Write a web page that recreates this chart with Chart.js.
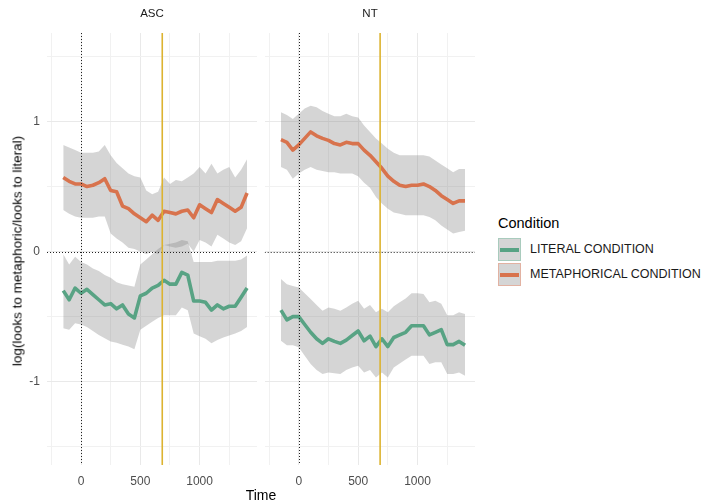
<!DOCTYPE html>
<html>
<head>
<meta charset="utf-8">
<script src="https://cdn.jsdelivr.net/npm/chart.js@4/dist/chart.umd.min.js"></script>
<style>
  html, body { margin: 0; padding: 0; background: #fff; }
  body { width: 702px; height: 501px; position: relative; overflow: hidden;
         font-family: "Liberation Sans", Arial, sans-serif; }
  canvas { position: absolute; top: 0; }
  #ascCanvas { left: 0; }
  #ntCanvas { left: 260px; }
  .strip { position: absolute; top: 7px; font-size: 11.5px; color: #1a1a1a;
           transform: translateX(-50%); white-space: nowrap; }
  #yTitle { position: absolute; left: 17px; top: 251px; white-space: nowrap;
            transform: translate(-50%, -50%) rotate(-90deg); font-size: 13.5px; color: #000; }
  #xTitle { position: absolute; left: 261px; top: 487px; transform: translateX(-50%);
            font-size: 14px; color: #000; }
  #legend { position: absolute; left: 498px; top: 215px; width: 204px; height: 75px; }
  #legend .title { position: absolute; left: 0; top: 0; font-size: 14.5px; color: #000; white-space: nowrap; }
  #legend .key { position: absolute; left: 0; width: 21px; height: 21px;
                 background: #d5d5d5; border: 1px solid; }
  #legend .key i { position: absolute; left: 1px; right: 1px; top: 9px; height: 3.5px; }
  #legend .lab { position: absolute; left: 32px; font-size: 12.5px; color: #1a1a1a;
                 white-space: nowrap; }
</style>
</head>
<body>
<canvas id="ascCanvas" width="260" height="501"></canvas>
<canvas id="ntCanvas" width="220" height="501"></canvas>
<div class="strip" style="left:152px">ASC</div>
<div class="strip" style="left:370px">NT</div>
<div id="yTitle">log(looks to metaphoric/looks to literal)</div>
<div id="xTitle">Time</div>
<div id="legend"></div>

<script>
// Time bins (ms relative to onset)
const timeBins = [-150, -100, -50, 0, 50, 100, 150, 200, 250, 300, 350, 400, 450, 500, 550, 600,
                  650, 700, 750, 800, 850, 900, 950, 1000, 1050, 1100, 1150, 1200, 1250, 1300, 1350, 1400];

const groups = ["ASC", "NT"];
const conditions = ["LITERAL CONDITION", "METAPHORICAL CONDITION"];

// ASC group: mean log-ratio and confidence band
const ascMetaMean  = [0.57, 0.54, 0.52, 0.52, 0.50, 0.51, 0.53, 0.56, 0.47, 0.46, 0.35, 0.33, 0.29, 0.26, 0.23, 0.28,
                      0.24, 0.31, 0.30, 0.29, 0.31, 0.32, 0.26, 0.36, 0.33, 0.30, 0.40, 0.37, 0.34, 0.31, 0.34, 0.45];
const ascMetaUpper = [0.82, 0.80, 0.78, 0.76, 0.76, 0.76, 0.77, 0.82, 0.74, 0.68, 0.64, 0.60, 0.58, 0.57, 0.47, 0.44,
                      0.46, 0.57, 0.52, 0.55, 0.54, 0.57, 0.60, 0.65, 0.60, 0.675, 0.60, 0.63, 0.65, 0.57, 0.63, 0.71];
const ascMetaLower = [0.32, 0.29, 0.27, 0.26, 0.26, 0.26, 0.27, 0.27, 0.14, 0.10, 0.07, 0.03, 0.02, 0.00, -0.02, 0.00,
                      -0.02, 0.05, 0.04, 0.03, 0.04, 0.06, 0.00, 0.09, 0.07, 0.04, 0.13, 0.10, 0.07, 0.05, 0.08, 0.18];
const ascLitMean   = [-0.30, -0.37, -0.28, -0.32, -0.29, -0.33, -0.37, -0.41, -0.40, -0.44, -0.41, -0.48, -0.51, -0.34, -0.32, -0.28,
                      -0.26, -0.22, -0.25, -0.25, -0.16, -0.18, -0.38, -0.38, -0.39, -0.45, -0.41, -0.44, -0.42, -0.42, -0.35, -0.28];
const ascLitUpper  = [-0.02, -0.10, -0.04, -0.08, -0.10, -0.13, -0.15, -0.18, -0.20, -0.235, -0.25, -0.26, -0.27, -0.10, -0.06, -0.02,
                      0.02, 0.05, 0.06, 0.07, 0.09, 0.08, -0.08, -0.08, -0.08, -0.08, -0.07, -0.07, -0.07, -0.07, -0.06, -0.03];
const ascLitLower  = [-0.59, -0.60, -0.55, -0.56, -0.58, -0.61, -0.64, -0.665, -0.69, -0.70, -0.715, -0.73, -0.75, -0.60, -0.57, -0.54,
                      -0.51, -0.49, -0.49, -0.49, -0.43, -0.45, -0.63, -0.65, -0.67, -0.705, -0.68, -0.66, -0.645, -0.63, -0.61, -0.58];

// NT group: mean log-ratio and confidence band
const ntMetaMean   = [0.86, 0.84, 0.78, 0.82, 0.87, 0.92, 0.89, 0.87, 0.855, 0.83, 0.82, 0.84, 0.83, 0.83, 0.78, 0.74,
                      0.69, 0.64, 0.58, 0.54, 0.51, 0.50, 0.51, 0.51, 0.52, 0.50, 0.47, 0.43, 0.40, 0.37, 0.39, 0.39];
const ntMetaUpper  = [1.07, 1.05, 1.02, 1.06, 1.10, 1.12, 1.11, 1.08, 1.06, 1.04, 1.04, 1.06, 1.04, 1.03, 0.97, 0.92,
                      0.87, 0.83, 0.79, 0.76, 0.74, 0.74, 0.74, 0.74, 0.74, 0.73, 0.70, 0.67, 0.64, 0.61, 0.635, 0.635];
const ntMetaLower  = [0.65, 0.63, 0.56, 0.60, 0.63, 0.65, 0.63, 0.62, 0.61, 0.61, 0.60, 0.60, 0.60, 0.58, 0.53, 0.49,
                      0.42, 0.37, 0.33, 0.30, 0.29, 0.28, 0.28, 0.28, 0.28, 0.265, 0.24, 0.20, 0.17, 0.14, 0.15, 0.16];
const ntLitMean    = [-0.45, -0.525, -0.50, -0.50, -0.56, -0.62, -0.67, -0.705, -0.67, -0.69, -0.705, -0.68, -0.645, -0.61, -0.685, -0.65,
                      -0.73, -0.67, -0.73, -0.66, -0.64, -0.62, -0.57, -0.57, -0.57, -0.64, -0.62, -0.60, -0.715, -0.715, -0.69, -0.72];
const ntLitUpper   = [-0.21, -0.25, -0.265, -0.275, -0.32, -0.365, -0.41, -0.455, -0.43, -0.44, -0.455, -0.43, -0.40, -0.377, -0.44, -0.41,
                      -0.467, -0.44, -0.467, -0.42, -0.39, -0.36, -0.32, -0.32, -0.325, -0.39, -0.377, -0.40, -0.49, -0.49, -0.467, -0.48];
const ntLitLower   = [-0.685, -0.72, -0.72, -0.736, -0.80, -0.864, -0.91, -0.94, -0.93, -0.935, -0.94, -0.91, -0.89, -0.877, -0.93, -0.91,
                      -0.967, -0.93, -0.967, -0.89, -0.86, -0.83, -0.80, -0.80, -0.80, -0.864, -0.85, -0.85, -0.94, -0.94, -0.93, -0.954];

// Axis ticks: labelled (major) values and gridline-only (minor) values
const xMajorTicks = [0, 500, 1000];
const xMinorTicks = [-250, 250, 750, 1250];
const yMajorTicks = [-1, 0, 1];
const yMinorTicks = [-1.5, -0.5, 0.5, 1.5];

// Reference lines
const onsetTime = 0;
const markerTime = 685;

const colLiteral = "#58a384";
const colMetaphor = "#d8734d";
const bandFill = "rgba(128,128,128,0.33)";
const gridMajor = "#e9e9e9";
const gridMinor = "#f1f1f1";
const tickFont = { family: "'Liberation Sans', Arial, sans-serif", size: 12 };

const pts = arr => timeBins.map((t, i) => ({ x: t, y: arr[i] }));

function panelDatasets(metaMean, metaUp, metaLo, litMean, litUp, litLo) {
  const band = (data, fill) => ({ data: pts(data), fill: fill, backgroundColor: bandFill,
                                  borderWidth: 0, pointRadius: 0, tension: 0, order: 2 });
  const line = (data, col, label) => ({ label: label, data: pts(data), borderColor: col, borderWidth: 3.6,
                                        borderJoinStyle: "round", pointRadius: 0, fill: false, tension: 0, order: 0 });
  return [
    band(metaUp, "+1"), band(metaLo, false),
    band(litUp, "+1"), band(litLo, false),
    line(litMean, colLiteral, conditions[0]),
    line(metaMean, colMetaphor, conditions[1])
  ];
}

const refLines = {
  id: "refLines",
  afterDatasetsDraw(chart) {
    const { ctx, chartArea: a, scales: { x, y } } = chart;
    ctx.save();
    ctx.beginPath(); ctx.rect(a.left, a.top, a.right - a.left, a.bottom - a.top); ctx.clip();
    ctx.strokeStyle = "#222"; ctx.lineWidth = 1; ctx.setLineDash([1, 2]);
    const x0 = Math.round(x.getPixelForValue(onsetTime)) + 0.5;
    ctx.beginPath(); ctx.moveTo(x0, a.top); ctx.lineTo(x0, a.bottom); ctx.stroke();
    const y0 = Math.round(y.getPixelForValue(0)) + 0.5;
    ctx.beginPath(); ctx.moveTo(a.left, y0); ctx.lineTo(a.right, y0); ctx.stroke();
    ctx.setLineDash([]);
    ctx.strokeStyle = "#dcb330"; ctx.lineWidth = 1.6;
    const xm = x.getPixelForValue(markerTime);
    ctx.beginPath(); ctx.moveTo(xm, a.top); ctx.lineTo(xm, a.bottom); ctx.stroke();
    ctx.restore();
  }
};

function makePanel(canvasId, datasets, showY, pad) {
  const xTicks = xMajorTicks.concat(xMinorTicks).sort((a, b) => a - b);
  const yTicks = yMajorTicks.concat(yMinorTicks).sort((a, b) => a - b);
  return new Chart(document.getElementById(canvasId), {
    type: "line",
    data: { datasets: datasets },
    plugins: [refLines],
    options: {
      responsive: false,
      animation: false,
      layout: { padding: pad },
      plugins: { legend: { display: false }, tooltip: { enabled: false }, title: { display: false } },
      scales: {
        x: {
          type: "linear", min: -287, max: 1484,
          afterBuildTicks: s => { s.ticks = xTicks.map(v => ({ value: v })); },
          afterFit: s => { s.height = 36; },
          border: { display: false },
          grid: { drawTicks: false, color: c => xMajorTicks.includes(c.tick.value) ? gridMajor : gridMinor, lineWidth: 1 },
          ticks: { padding: 9, color: "#4d4d4d", font: tickFont, maxRotation: 0, autoSkip: false,
                   callback: v => xMajorTicks.includes(v) ? String(v) : "" }
        },
        y: {
          type: "linear", min: -1.64, max: 1.68,
          afterBuildTicks: s => { s.ticks = yTicks.map(v => ({ value: v })); },
          afterFit: s => { s.width = showY ? 47 : 0; },
          border: { display: false },
          grid: { drawTicks: false, color: c => yMajorTicks.includes(c.tick.value) ? gridMajor : gridMinor, lineWidth: 1 },
          ticks: { display: showY, padding: 7, color: "#4d4d4d", font: tickFont, autoSkip: false,
                   callback: v => yMajorTicks.includes(v) ? String(v) : "" }
        }
      }
    }
  });
}

makePanel("ascCanvas",
  panelDatasets(ascMetaMean, ascMetaUpper, ascMetaLower, ascLitMean, ascLitUpper, ascLitLower),
  true, { top: 33, right: 3, bottom: 0, left: 0 });
makePanel("ntCanvas",
  panelDatasets(ntMetaMean, ntMetaUpper, ntMetaLower, ntLitMean, ntLitUpper, ntLitLower),
  false, { top: 33, right: 5, bottom: 0, left: 4 });

// Legend
const legend = document.getElementById("legend");
const keyColours = [colLiteral, colMetaphor];
const keyBorders = ["#a9cbbd", "#e2b2a2"];
let html = '<div class="title">Condition</div>';
conditions.forEach((c, i) => {
  const top = 23 + i * 25;
  html += '<div class="key" style="top:' + top + 'px;border-color:' + keyBorders[i] + '"><i style="background:' +
          keyColours[i] + '"></i></div><div class="lab" style="top:' + (top + 4) + 'px">' + c + '</div>';
});
legend.innerHTML = html;
</script>
</body>
</html>
